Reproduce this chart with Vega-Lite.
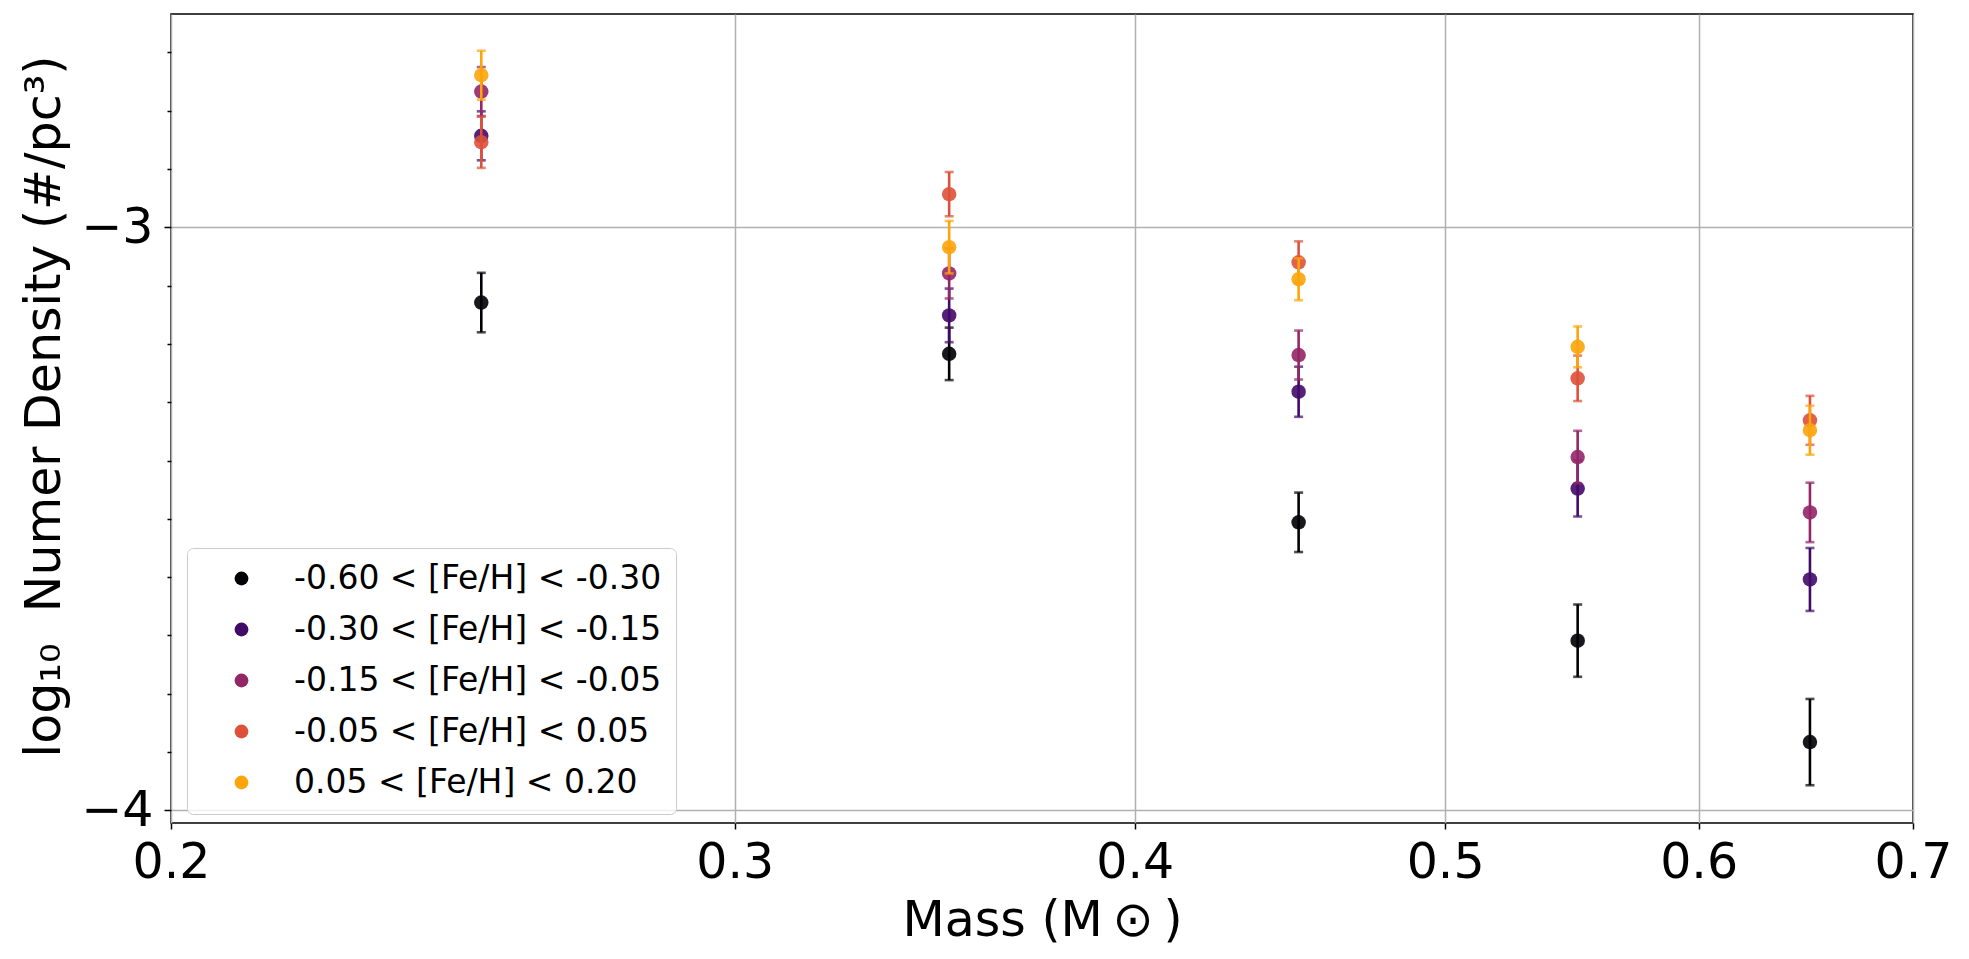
{
  "$schema": "https://vega.github.io/schema/vega-lite/v6.json",
  "width": 1742,
  "height": 809,
  "autosize": "none",
  "padding": {"left": 171, "top": 14, "right": 56, "bottom": 136},
  "background": "white",
  "data": {
    "values": [
      {"mass": 0.25, "feh": "-0.60 < [Fe/H] < -0.30", "val": -3.129, "lo": -3.180, "hi": -3.078},
      {"mass": 0.35, "feh": "-0.60 < [Fe/H] < -0.30", "val": -3.217, "lo": -3.262, "hi": -3.172},
      {"mass": 0.45, "feh": "-0.60 < [Fe/H] < -0.30", "val": -3.506, "lo": -3.557, "hi": -3.455},
      {"mass": 0.55, "feh": "-0.60 < [Fe/H] < -0.30", "val": -3.709, "lo": -3.771, "hi": -3.647},
      {"mass": 0.65, "feh": "-0.60 < [Fe/H] < -0.30", "val": -3.883, "lo": -3.957, "hi": -3.809},
      {"mass": 0.25, "feh": "-0.30 < [Fe/H] < -0.15", "val": -2.843, "lo": -2.885, "hi": -2.801},
      {"mass": 0.35, "feh": "-0.30 < [Fe/H] < -0.15", "val": -3.151, "lo": -3.197, "hi": -3.105},
      {"mass": 0.45, "feh": "-0.30 < [Fe/H] < -0.15", "val": -3.282, "lo": -3.325, "hi": -3.239},
      {"mass": 0.55, "feh": "-0.30 < [Fe/H] < -0.15", "val": -3.448, "lo": -3.496, "hi": -3.400},
      {"mass": 0.65, "feh": "-0.30 < [Fe/H] < -0.15", "val": -3.604, "lo": -3.658, "hi": -3.550},
      {"mass": 0.25, "feh": "-0.15 < [Fe/H] < -0.05", "val": -2.767, "lo": -2.809, "hi": -2.725},
      {"mass": 0.35, "feh": "-0.15 < [Fe/H] < -0.05", "val": -3.079, "lo": -3.122, "hi": -3.036},
      {"mass": 0.45, "feh": "-0.15 < [Fe/H] < -0.05", "val": -3.219, "lo": -3.261, "hi": -3.177},
      {"mass": 0.55, "feh": "-0.15 < [Fe/H] < -0.05", "val": -3.394, "lo": -3.439, "hi": -3.349},
      {"mass": 0.65, "feh": "-0.15 < [Fe/H] < -0.05", "val": -3.489, "lo": -3.540, "hi": -3.438},
      {"mass": 0.25, "feh": "-0.05 < [Fe/H] < 0.05", "val": -2.854, "lo": -2.898, "hi": -2.810},
      {"mass": 0.35, "feh": "-0.05 < [Fe/H] < 0.05", "val": -2.943, "lo": -2.981, "hi": -2.905},
      {"mass": 0.45, "feh": "-0.05 < [Fe/H] < 0.05", "val": -3.060, "lo": -3.096, "hi": -3.024},
      {"mass": 0.55, "feh": "-0.05 < [Fe/H] < 0.05", "val": -3.259, "lo": -3.298, "hi": -3.220},
      {"mass": 0.65, "feh": "-0.05 < [Fe/H] < 0.05", "val": -3.331, "lo": -3.373, "hi": -3.289},
      {"mass": 0.25, "feh": "0.05 < [Fe/H] < 0.20", "val": -2.739, "lo": -2.781, "hi": -2.697},
      {"mass": 0.35, "feh": "0.05 < [Fe/H] < 0.20", "val": -3.034, "lo": -3.079, "hi": -2.989},
      {"mass": 0.45, "feh": "0.05 < [Fe/H] < 0.20", "val": -3.089, "lo": -3.125, "hi": -3.053},
      {"mass": 0.55, "feh": "0.05 < [Fe/H] < 0.20", "val": -3.205, "lo": -3.240, "hi": -3.170},
      {"mass": 0.65, "feh": "0.05 < [Fe/H] < 0.20", "val": -3.348, "lo": -3.390, "hi": -3.306}
    ]
  },
  "encoding": {
    "x": {
      "field": "mass",
      "type": "quantitative",
      "scale": {"type": "log", "domain": [0.2, 0.7], "nice": false},
      "axis": {
        "values": [0.2, 0.3, 0.4, 0.5, 0.6, 0.7],
        "format": ".1f",
        "title": "Mass (M\u2009⊙\u2009)",
        "titleY": 112,
        "titleBaseline": "alphabetic",
        "tickSize": 6,
        "labelPadding": 9
      }
    },
    "color": {
      "field": "feh",
      "type": "nominal",
      "scale": {
        "domain": ["-0.60 < [Fe/H] < -0.30", "-0.30 < [Fe/H] < -0.15", "-0.15 < [Fe/H] < -0.05", "-0.05 < [Fe/H] < 0.05", "0.05 < [Fe/H] < 0.20"],
        "range": ["#000004", "#420a68", "#932667", "#dd513a", "#fca50a"]
      },
      "legend": {
        "title": null,
        "orient": "none",
        "legendX": 16,
        "legendY": 534,
        "symbolType": "circle",
        "symbolSize": 190,
        "symbolOpacity": 1,
        "symbolStrokeWidth": 0,
        "symbolOffset": 24,
        "labelFontSize": 33,
        "labelOffset": 36,
        "rowPadding": 17,
        "padding": 14,
        "fillColor": "rgba(255,255,255,0.8)",
        "strokeColor": "#cccccc",
        "cornerRadius": 6
      }
    }
  },
  "layer": [
    {
      "layer": [
        {
          "transform": [{"filter": "datum.feh == '-0.60 < [Fe/H] < -0.30'"}],
          "layer": [
            {
              "mark": {"type": "errorbar", "ticks": {"size": 9}, "thickness": 2.6},
              "encoding": {
                "y": {"field": "lo", "type": "quantitative", "scale": {"domain": [-4.0218, -2.634], "nice": false, "zero": false}, "title": "log₁₀\u00a0\u00a0Numer Density (#/pc³)"},
                "y2": {"field": "hi"}
              }
            },
            {
              "mark": {"type": "circle", "size": 210, "opacity": 0.9},
              "encoding": {
                "y": {"field": "val", "type": "quantitative", "scale": {"domain": [-4.0218, -2.634], "nice": false, "zero": false}, "title": "log₁₀\u00a0\u00a0Numer Density (#/pc³)"}
              }
            }
          ]
        },
        {
          "transform": [{"filter": "datum.feh == '-0.30 < [Fe/H] < -0.15'"}],
          "layer": [
            {
              "mark": {"type": "errorbar", "ticks": {"size": 9}, "thickness": 2.6},
              "encoding": {
                "y": {"field": "lo", "type": "quantitative", "scale": {"domain": [-4.0218, -2.634], "nice": false, "zero": false}, "title": "log₁₀\u00a0\u00a0Numer Density (#/pc³)"},
                "y2": {"field": "hi"}
              }
            },
            {
              "mark": {"type": "circle", "size": 210, "opacity": 0.9},
              "encoding": {
                "y": {"field": "val", "type": "quantitative", "scale": {"domain": [-4.0218, -2.634], "nice": false, "zero": false}, "title": "log₁₀\u00a0\u00a0Numer Density (#/pc³)"}
              }
            }
          ]
        },
        {
          "transform": [{"filter": "datum.feh == '-0.15 < [Fe/H] < -0.05'"}],
          "layer": [
            {
              "mark": {"type": "errorbar", "ticks": {"size": 9}, "thickness": 2.6},
              "encoding": {
                "y": {"field": "lo", "type": "quantitative", "scale": {"domain": [-4.0218, -2.634], "nice": false, "zero": false}, "title": "log₁₀\u00a0\u00a0Numer Density (#/pc³)"},
                "y2": {"field": "hi"}
              }
            },
            {
              "mark": {"type": "circle", "size": 210, "opacity": 0.9},
              "encoding": {
                "y": {"field": "val", "type": "quantitative", "scale": {"domain": [-4.0218, -2.634], "nice": false, "zero": false}, "title": "log₁₀\u00a0\u00a0Numer Density (#/pc³)"}
              }
            }
          ]
        },
        {
          "transform": [{"filter": "datum.feh == '-0.05 < [Fe/H] < 0.05'"}],
          "layer": [
            {
              "mark": {"type": "errorbar", "ticks": {"size": 9}, "thickness": 2.6},
              "encoding": {
                "y": {"field": "lo", "type": "quantitative", "scale": {"domain": [-4.0218, -2.634], "nice": false, "zero": false}, "title": "log₁₀\u00a0\u00a0Numer Density (#/pc³)"},
                "y2": {"field": "hi"}
              }
            },
            {
              "mark": {"type": "circle", "size": 210, "opacity": 0.9},
              "encoding": {
                "y": {"field": "val", "type": "quantitative", "scale": {"domain": [-4.0218, -2.634], "nice": false, "zero": false}, "title": "log₁₀\u00a0\u00a0Numer Density (#/pc³)"}
              }
            }
          ]
        },
        {
          "transform": [{"filter": "datum.feh == '0.05 < [Fe/H] < 0.20'"}],
          "layer": [
            {
              "mark": {"type": "errorbar", "ticks": {"size": 9}, "thickness": 2.6},
              "encoding": {
                "y": {"field": "lo", "type": "quantitative", "scale": {"domain": [-4.0218, -2.634], "nice": false, "zero": false}, "title": "log₁₀\u00a0\u00a0Numer Density (#/pc³)"},
                "y2": {"field": "hi"}
              }
            },
            {
              "mark": {"type": "circle", "size": 210, "opacity": 0.9},
              "encoding": {
                "y": {
                  "field": "val",
                  "type": "quantitative",
                  "scale": {"domain": [-4.0218, -2.634], "nice": false, "zero": false},
                  "title": "log₁₀\u00a0\u00a0Numer Density (#/pc³)",
                  "axis": {
                    "orient": "left",
                    "values": [-4, -3],
                    "format": "d",
                    "tickSize": 7,
                    "labelPadding": 11,
                    "titleAngle": 270,
                    "titleX": -112,
                    "titleY": 392,
                    "titleAlign": "center",
                    "titleBaseline": "alphabetic"
                  }
                }
              }
            }
          ]
        }
      ]
    },
    {
      "mark": {"type": "point", "opacity": 0},
      "encoding": {
        "color": {"value": "white"},
        "y": {
          "field": "val",
          "type": "quantitative",
          "scale": {"domain": [-4.0218, -2.634], "nice": false, "zero": false},
          "axis": {
            "orient": "left",
            "values": [-3.9, -3.8, -3.7, -3.6, -3.5, -3.4, -3.3, -3.2, -3.1, -2.9, -2.8, -2.7],
            "labels": false,
            "grid": false,
            "domain": false,
            "tickSize": 4,
            "title": null
          }
        }
      }
    }
  ],
  "resolve": {"axis": {"y": "independent"}},
  "config": {
    "font": "DejaVu Sans",
    "view": {"stroke": "#000000", "strokeWidth": 1.5},
    "axis": {
      "grid": true,
      "gridColor": "#b0b0b0",
      "gridWidth": 1.5,
      "domain": false,
      "tickColor": "#000000",
      "tickWidth": 1.5,
      "labelFont": "DejaVu Sans",
      "labelFontSize": 49,
      "labelColor": "#000000",
      "labelFlush": false,
      "titleFont": "DejaVu Sans",
      "titleFontSize": 49,
      "titleFontWeight": "normal",
      "titleColor": "#000000"
    },
    "legend": {
      "labelFont": "DejaVu Sans",
      "labelColor": "#000000",
      "labelLimit": 600
    }
  }
}
